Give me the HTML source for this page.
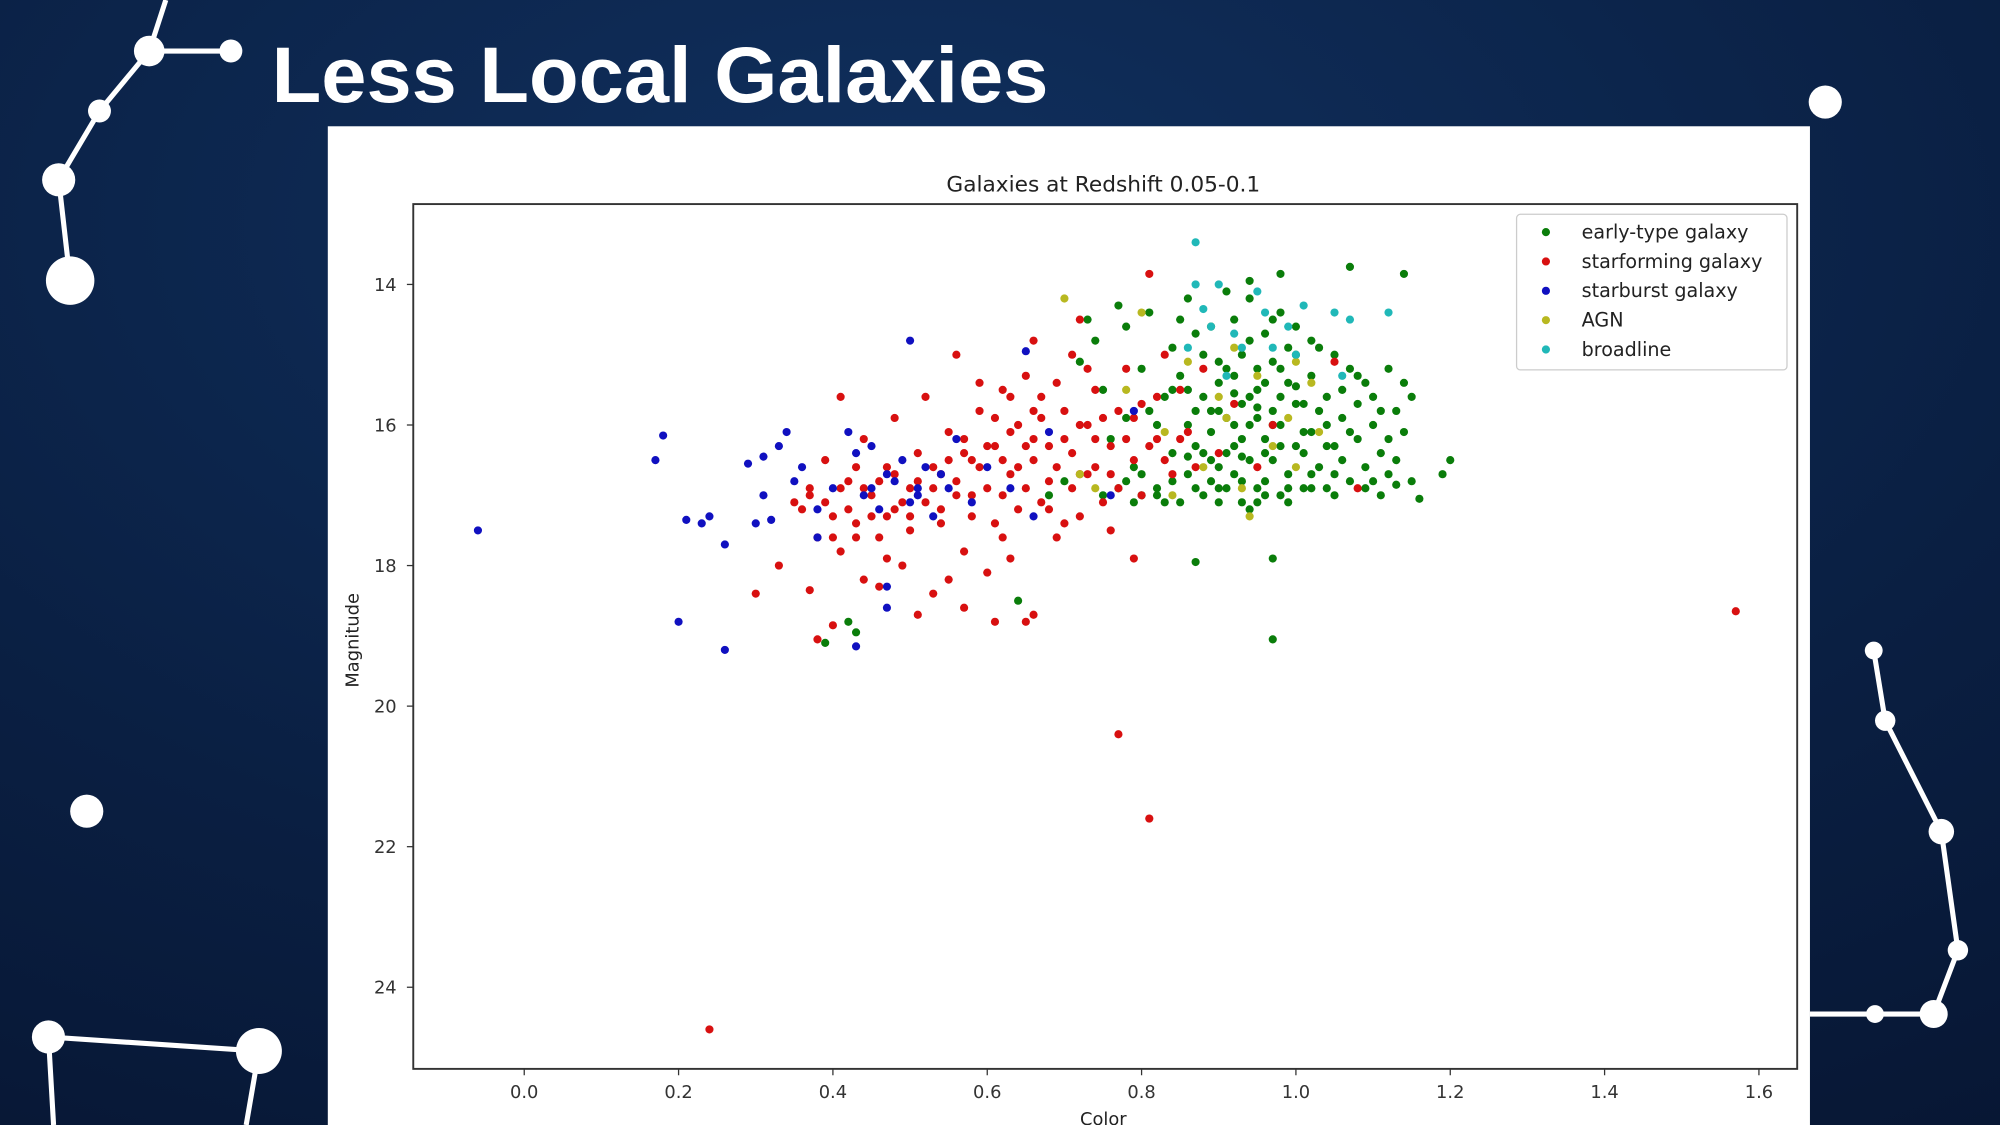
<!DOCTYPE html>
<html><head><meta charset="utf-8"><style>
html,body{margin:0;padding:0;width:2000px;height:1125px;overflow:hidden;background:#0a1d3c}
svg{display:block}
text{font-family:"DejaVu Sans","Liberation Sans",sans-serif}
</style></head><body>
<svg id="root" width="2000" height="1125" viewBox="0 0 1568 882" preserveAspectRatio="none">
<defs>
<radialGradient id="bg" cx="0.45" cy="0.2" r="1"><stop offset="0" stop-color="#10305e"/><stop offset="0.6" stop-color="#0a1f42"/><stop offset="1" stop-color="#071633"/></radialGradient>
</defs>
<rect width="1568" height="882" fill="url(#bg)"/>
<g fill="#fff" stroke="#fff" stroke-width="4">
<polyline points="130,0 117,40 78,87 46,141 55,220" fill="none"/>
<line x1="117" y1="40" x2="181" y2="40"/>
<circle cx="117" cy="40" r="12" stroke="none"/><circle cx="181" cy="40" r="9" stroke="none"/>
<circle cx="78" cy="87" r="9" stroke="none"/><circle cx="46" cy="141" r="13" stroke="none"/>
<circle cx="55" cy="220" r="19" stroke="none"/><circle cx="68" cy="636" r="13" stroke="none"/>
<polyline points="42,882 38,813 203,824 193,882" fill="none"/>
<circle cx="38" cy="813" r="13" stroke="none"/><circle cx="203" cy="824" r="18" stroke="none"/>
</g>
<g fill="#fff" stroke="#fff" stroke-width="4">
<circle cx="1431" cy="80" r="13" stroke="none"/>
<polyline points="1469,510 1478,565 1522,652 1535,745 1516,795 1419,795" fill="none"/>
<circle cx="1469" cy="510" r="7" stroke="none"/><circle cx="1478" cy="565" r="8" stroke="none"/>
<circle cx="1522" cy="652" r="10" stroke="none"/><circle cx="1535" cy="745" r="8" stroke="none"/>
<circle cx="1516" cy="795" r="11" stroke="none"/><circle cx="1470" cy="795" r="7" stroke="none"/>
</g>
<text x="213" y="80" font-size="62" font-weight="bold" fill="#fff" textLength="609" lengthAdjust="spacingAndGlyphs" style='font-family:"Liberation Sans",sans-serif'>Less Local Galaxies</text>
<rect x="257" y="99" width="1162" height="783" fill="#fff"/>
<text x="865" y="150" font-size="17" text-anchor="middle" fill="#222">Galaxies at Redshift 0.05-0.1</text>
<g id="plot"></g>
<rect x="324" y="160" width="1085" height="678" fill="none" stroke="#333" stroke-width="1.5"/>
<text x="865" y="882" font-size="14" text-anchor="middle" fill="#222">Color</text>
<text x="281" y="502" font-size="14" text-anchor="middle" fill="#222" transform="rotate(-90 281 502)">Magnitude</text>
<g id="legend">
<rect x="1189" y="168" width="212" height="122" rx="3" fill="#fff" stroke="#ccc"/>
</g>
</svg>
<script>
const xTicks=[0.0,0.2,0.4,0.6,0.8,1.0,1.2,1.4,1.6];
const yTicks=[14,16,18,20,22,24];
const seriesNames=["early-type galaxy","starforming galaxy","starburst galaxy","AGN","broadline"];
const seriesColors=["#0a7d0a","#d81010","#1010c0","#b8b820","#20b8b8"];
const earlyType=[[0.72,15.1],[0.74,14.8],[0.75,15.5],[0.76,16.2],[0.78,14.6],[0.78,15.9],[0.79,16.6],[0.8,15.2],[0.8,17.0],[0.81,14.4],[0.82,16.0],[0.82,16.9],[0.83,15.6],[0.84,14.9],[0.84,16.4],[0.85,17.1],[0.85,15.3],[0.86,14.2],[0.86,16.7],[0.87,15.8],[0.87,16.3],[0.88,15.0],[0.88,17.0],[0.89,14.6],[0.89,16.1],[0.9,15.4],[0.9,16.6],[0.9,15.1],[0.91,14.1],[0.91,15.9],[0.91,16.9],[0.92,15.3],[0.92,16.3],[0.92,14.5],[0.93,15.7],[0.93,16.8],[0.93,15.0],[0.94,16.0],[0.94,14.2],[0.94,16.5],[0.95,15.5],[0.95,17.1],[0.95,15.2],[0.96,16.2],[0.96,14.7],[0.96,16.8],[0.97,15.8],[0.97,15.1],[0.97,16.5],[0.98,14.4],[0.98,16.0],[0.98,17.0],[0.99,15.4],[0.99,16.7],[1.0,15.0],[1.0,16.3],[1.0,14.6],[1.01,15.7],[1.01,16.9],[1.02,15.3],[1.02,16.1],[1.03,14.9],[1.03,16.6],[1.04,15.6],[1.04,16.3],[1.05,15.0],[1.05,17.0],[1.06,15.9],[1.06,16.5],[1.07,15.2],[1.07,16.8],[1.08,15.7],[1.08,16.2],[1.09,15.4],[1.09,16.9],[1.1,16.0],[1.1,15.6],[1.11,16.4],[1.12,15.2],[1.12,16.7],[1.13,15.8],[1.14,15.4],[1.15,15.6],[1.16,17.05],[1.13,16.85],[1.2,16.5],[1.19,16.7],[1.14,13.85],[1.07,13.75],[0.98,13.85],[0.94,13.95],[0.39,19.1],[0.43,18.95],[0.42,18.8],[0.64,18.5],[0.87,17.95],[0.97,17.9],[0.97,19.05],[0.75,17.0],[0.78,16.8],[0.83,17.1],[0.86,15.5],[0.89,15.8],[0.92,16.0],[0.95,15.9],[0.98,15.6],[1.01,16.4],[1.04,16.0],[0.9,16.9],[0.94,17.2],[0.88,16.4],[0.85,14.5],[0.77,14.3],[0.73,14.5],[0.7,16.8],[0.68,17.0],
[0.86,16.0],[0.87,16.9],[0.88,15.6],[0.89,16.8],[0.9,15.8],[0.91,16.4],[0.92,16.7],[0.93,16.2],[0.94,15.6],[0.95,16.9],[0.96,15.4],[0.97,16.0],[0.98,16.3],[0.99,16.9],[1.0,15.7],[1.01,16.1],[1.02,16.7],[1.03,15.8],[1.04,16.9],[1.05,16.3],[1.06,15.5],[1.07,16.1],[1.08,15.3],[1.09,16.6],[1.1,16.8],[1.11,15.8],[1.12,16.2],[1.13,16.5],[0.84,16.8],[0.82,17.0],[0.8,16.7],[0.79,17.1],[0.77,16.9],[0.9,17.1],[0.93,17.1],[0.96,17.0],[0.99,17.1],[1.02,16.9],[0.92,15.55],[0.95,15.75],[0.98,15.2],[1.0,15.45],[0.91,15.2],[0.94,14.8],[0.97,14.5],[0.99,14.9],[1.02,14.8],[0.87,14.7],[0.84,15.5],[0.81,15.8],[1.14,16.1],[1.15,16.8],[1.11,17.0],[1.05,16.7],[0.96,16.4],[0.93,16.45],[0.89,16.5],[0.86,16.45]];
const starforming=[[0.36,17.2],[0.37,16.9],[0.38,17.6],[0.39,16.5],[0.4,17.3],[0.41,15.6],[0.41,17.8],[0.42,16.8],[0.43,17.4],[0.44,18.2],[0.44,16.2],[0.45,17.0],[0.46,17.6],[0.47,16.6],[0.48,17.2],[0.48,15.9],[0.49,18.0],[0.5,16.9],[0.5,17.5],[0.51,16.4],[0.52,17.1],[0.52,15.6],[0.53,18.4],[0.54,16.7],[0.54,17.4],[0.55,16.1],[0.56,17.0],[0.56,15.0],[0.57,17.8],[0.58,16.5],[0.58,17.3],[0.59,15.8],[0.6,16.9],[0.6,18.1],[0.61,16.3],[0.61,17.4],[0.62,15.5],[0.63,16.7],[0.63,17.9],[0.64,16.0],[0.64,17.2],[0.65,15.3],[0.65,18.8],[0.66,16.5],[0.67,17.1],[0.67,15.9],[0.68,16.8],[0.69,15.4],[0.69,17.6],[0.7,16.2],[0.71,16.9],[0.71,15.0],[0.72,17.3],[0.73,16.0],[0.74,16.6],[0.74,15.5],[0.75,17.1],[0.76,16.3],[0.77,15.8],[0.77,16.9],[0.78,15.2],[0.79,16.5],[0.8,17.0],[0.8,15.7],[0.81,13.85],[0.82,16.2],[0.83,15.0],[0.84,16.7],[0.85,15.5],[0.86,16.1],[0.88,15.2],[0.9,16.4],[0.92,15.7],[0.95,16.6],[0.97,16.0],[0.3,18.4],[0.33,18.0],[0.37,18.35],[0.38,19.05],[0.4,18.85],[0.57,18.6],[0.61,18.8],[0.66,18.7],[0.77,20.4],[0.81,21.6],[0.24,24.6],[1.57,18.65],[0.35,17.1],[0.43,16.6],[0.47,17.9],[0.53,16.9],[0.57,16.4],[0.62,17.6],[0.66,16.2],[0.7,17.4],[0.73,15.2],[0.76,17.5],[0.79,17.9],[0.72,14.5],[0.66,14.8],[0.59,15.4],[1.05,15.1],[1.08,16.9],[0.46,18.3],[0.51,18.7],[0.55,18.2],
[0.37,17.0],[0.39,17.1],[0.41,16.9],[0.42,17.2],[0.44,16.9],[0.45,17.3],[0.46,16.8],[0.48,16.7],[0.49,17.1],[0.51,16.8],[0.53,16.6],[0.55,16.5],[0.56,16.8],[0.57,16.2],[0.59,16.6],[0.6,16.3],[0.62,16.5],[0.63,16.1],[0.64,16.6],[0.65,16.9],[0.66,15.8],[0.68,16.3],[0.69,16.6],[0.7,15.8],[0.71,16.4],[0.72,16.0],[0.73,16.7],[0.74,16.2],[0.75,15.9],[0.76,16.7],[0.78,16.2],[0.79,15.9],[0.81,16.3],[0.82,15.6],[0.83,16.5],[0.85,16.2],[0.87,16.6],[0.62,17.0],[0.58,17.0],[0.54,17.2],[0.5,17.3],[0.47,17.3],[0.43,17.6],[0.4,17.6],[0.68,17.2],[0.72,16.7],[0.65,16.3],[0.61,15.9],[0.67,15.6],[0.63,15.6]];
const starburst=[[-0.06,17.5],[0.17,16.5],[0.18,16.15],[0.2,18.8],[0.21,17.35],[0.23,17.4],[0.24,17.3],[0.26,17.7],[0.26,19.2],[0.29,16.55],[0.3,17.4],[0.31,17.0],[0.31,16.45],[0.32,17.35],[0.33,16.3],[0.34,16.1],[0.35,16.8],[0.36,16.6],[0.38,17.2],[0.4,16.9],[0.42,16.1],[0.43,16.4],[0.44,17.0],[0.45,16.3],[0.46,17.2],[0.47,18.3],[0.47,18.6],[0.48,16.8],[0.5,14.8],[0.51,17.0],[0.52,16.6],[0.53,17.3],[0.55,16.9],[0.56,16.2],[0.58,17.1],[0.6,16.6],[0.63,16.9],[0.65,14.95],[0.66,17.3],[0.68,16.1],[0.43,19.15],[0.38,17.6],[0.76,17.0],[0.79,15.8],[0.5,17.1],[0.49,16.5],[0.51,16.9],[0.47,16.7],[0.45,16.9],[0.54,16.7]];
const agn=[[0.7,14.2],[0.72,16.7],[0.78,15.5],[0.8,14.4],[0.83,16.1],[0.86,15.1],[0.88,16.6],[0.9,15.6],[0.92,14.9],[0.93,16.9],[0.94,17.3],[0.95,15.3],[0.97,16.3],[0.99,15.9],[1.0,16.6],[1.02,15.4],[1.03,16.1],[0.74,16.9],[0.84,17.0],[0.91,15.9],[1.0,15.1]];
const broadline=[[0.87,13.4],[0.87,14.0],[0.88,14.35],[0.89,14.6],[0.9,14.0],[0.92,14.7],[0.93,14.9],[0.95,14.1],[0.96,14.4],[0.97,14.9],[0.99,14.6],[1.0,15.0],[1.01,14.3],[1.05,14.4],[1.07,14.5],[1.12,14.4],[1.06,15.3],[0.86,14.9],[0.91,15.3]];

const NS="http://www.w3.org/2000/svg";
function sx(v){return 411+(v-0)*(1379-411)/1.6;}
function sy(v){return 223+(v-14)*(774-223)/10;}
const plot=document.getElementById('plot');
function mk(tag,attrs,parent){const e=document.createElementNS(NS,tag);for(const k in attrs)e.setAttribute(k,attrs[k]);parent.appendChild(e);return e;}
xTicks.forEach(t=>{
  const g=mk('g',{},plot);
  
  
  mk('line',{x1:sx(t),x2:sx(t),y1:838,y2:843,stroke:'#333'},g);
  const tx=mk('text',{x:sx(t),y:861,'font-size':14,'text-anchor':'middle',fill:'#333'},g);
  tx.textContent=t.toFixed(1);
});
yTicks.forEach(t=>{
  const g=mk('g',{},plot);
  
  
  mk('line',{x1:319,x2:324,y1:sy(t),y2:sy(t),stroke:'#333'},g);
  const tx=mk('text',{x:311,y:sy(t)+5,'font-size':14,'text-anchor':'end',fill:'#333'},g);
  tx.textContent=t;
});
const allSeries=[earlyType,starforming,starburst,agn,broadline];
allSeries.forEach((s,i)=>{
  const g=mk('g',{fill:seriesColors[i]},plot);
  
  
  s.forEach(p=>{
    const c=mk('circle',{cx:sx(p[0]),cy:sy(p[1]),r:3.2},g);
    
    
  });
});
const lg=document.getElementById('legend');
seriesNames.forEach((n,i)=>{
  const g=mk('g',{},lg);
  
  
  mk('circle',{cx:1212,cy:182+i*23,r:3.2,fill:seriesColors[i]},g);
  const t=mk('text',{x:1240,y:187+i*23,'font-size':15,fill:'#222'},g);
  t.textContent=n;
});
</script>
</body></html>
